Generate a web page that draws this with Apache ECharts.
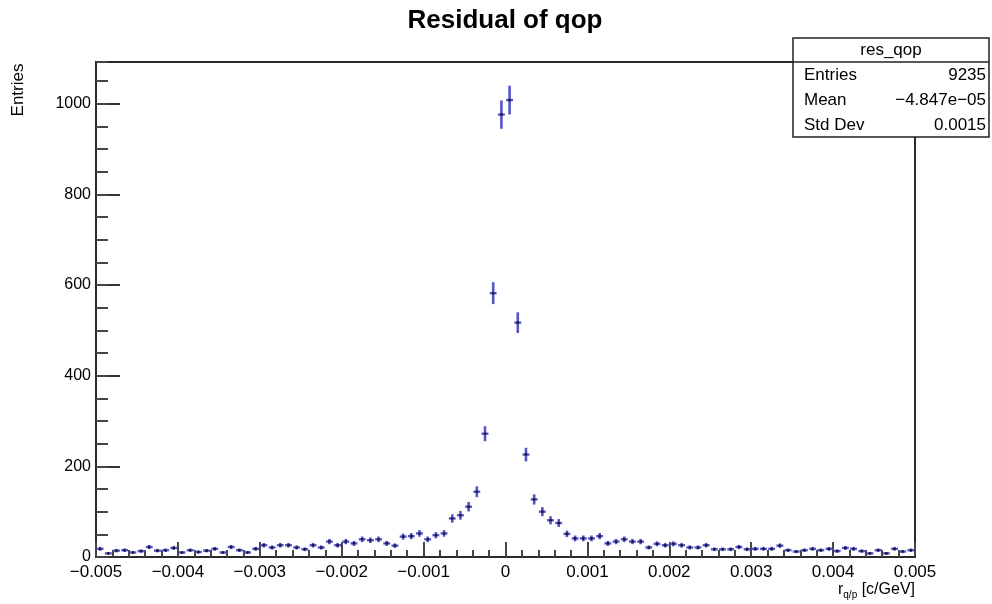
<!DOCTYPE html>
<html>
<head>
<meta charset="utf-8">
<script src="https://cdn.jsdelivr.net/npm/echarts@6/dist/echarts.min.js"></script>
<style>html,body{margin:0;padding:0;background:#fff;}#c{width:992px;height:604px;}</style>
</head>
<body>
<div id="c"></div>
<script>
// ---- data ----
const xMin = -0.005, xMax = 0.005, binWidth = 0.0001;
const counts = [
  18, 8, 14, 15, 10, 13, 22, 14, 15, 20, 10, 15, 11, 14, 18, 10, 22, 15, 10, 18,
  26, 21, 26, 26, 21, 17, 26, 21, 34, 26, 34, 30, 39, 37, 39, 30, 25, 45, 46, 52,
  39, 48, 52, 85, 92, 111, 144, 272, 582, 976, 1008, 517, 226, 127, 100, 81, 75, 51, 41, 41,
  41, 46, 30, 34, 39, 34, 34, 21, 29, 26, 29, 26, 21, 21, 26, 17, 17, 17, 22, 17,
  18, 18, 18, 25, 15, 12, 15, 18, 15, 18, 13, 20, 18, 13, 8, 15, 8, 18, 12, 15
];
const binCenters = counts.map((_, i) => xMin + (i + 0.5) * binWidth);
const yTicks = [0, 200, 400, 600, 800, 1000];
const statsRows = [["Entries", "9235"], ["Mean", "\u22124.847e\u221205"], ["Std Dev", "0.0015"]];
const yMax = 1092;

const font = "'Liberation Sans', Arial, Helvetica, sans-serif";
const seriesData = binCenters.map((x, i) => [x, counts[i], Math.sqrt(counts[i])]);

const chart = echarts.init(document.getElementById('c'), null, {renderer: 'canvas'});
const frame = '#2a2a2a';
chart.setOption({
  animation: false,
  backgroundColor: '#fff',
  grid: {left: 96, right: 77, top: 62, bottom: 47, show: true, borderColor: frame, borderWidth: 2, backgroundColor: 'transparent'},
  xAxis: {
    type: 'value', min: xMin, max: xMax, interval: 0.001,
    axisLine: {show: true, onZero: false, lineStyle: {color: frame, width: 2}},
    axisTick: {show: true, inside: true, length: 15, lineStyle: {color: '#444', width: 2}},
    minorTick: {show: true, splitNumber: 5, length: 7, lineStyle: {color: '#444', width: 2}},
    splitLine: {show: false},
    axisLabel: {
      margin: 7, color: '#000', fontSize: 17, fontFamily: font,
      formatter: v => {
        const r = Math.round(v * 1000) / 1000;
        if (r === 0) return '0';
        return (r < 0 ? '\u2212' : '') + Math.abs(r).toFixed(3);
      }
    }
  },
  yAxis: [{
    type: 'value', min: 0, max: yMax, interval: 200,
    axisLine: {show: true, onZero: false, lineStyle: {color: frame, width: 2}},
    axisTick: {show: true, inside: true, length: 24, lineStyle: {color: '#333', width: 2}},
    splitLine: {show: false},
    axisLabel: {margin: 5, color: '#000', fontSize: 16, fontFamily: font, showMaxLabel: false,
      formatter: v => (yTicks.indexOf(v) >= 0 ? String(v) : '')}
  }, {
    type: 'value', min: 0, max: yMax, interval: 50, position: 'left', offset: 0,
    axisLine: {show: false, onZero: false},
    axisTick: {show: true, inside: true, length: 12, lineStyle: {color: '#444', width: 2}},
    axisLabel: {show: false},
    splitLine: {show: false}
  }],
  series: [{
    type: 'custom',
    xAxisIndex: 0, yAxisIndex: 0,
    data: seriesData,
    encode: {x: 0, y: 1},
    clip: true,
    renderItem: function (params, api) {
      const x = api.value(0), y = api.value(1), e = api.value(2);
      const p = api.coord([x, y]);
      const top = api.coord([x, y + e]);
      const bot = api.coord([x, Math.max(0, y - e)]);
      const w = api.size([binWidth, 0])[0];
      const hw = w * 0.42;
      return {
        type: 'group',
        children: [
          {type: 'line', shape: {x1: p[0], y1: top[1], x2: p[0], y2: bot[1]}, style: {stroke: '#5555c6', lineWidth: 2.6}},
          {type: 'line', shape: {x1: p[0] - hw, y1: p[1], x2: p[0] + hw, y2: p[1]}, style: {stroke: '#5555c6', lineWidth: 2.4}},
          {type: 'circle', shape: {cx: p[0], cy: p[1], r: 1.3}, style: {fill: '#14143a'}}
        ]
      };
    }
  }],
  graphic: [
    {type: 'text', x: 505, y: 8, style: {text: 'Residual of qop', font: "bold 26px " + font, fill: '#000', align: 'center', verticalAlign: 'top'}},
    {type: 'text', x: 18, y: 90, rotation: Math.PI / 2,
      style: {text: 'Entries', font: "17px " + font, fill: '#000', align: 'center', verticalAlign: 'middle'}},
    {type: 'text', x: 915, y: 582,
      style: {
        text: '{a|r}{b|q/p}{a| [c/GeV]}', align: 'right', verticalAlign: 'top',
        rich: {
          a: {fontSize: 16, fontFamily: font, fill: '#000', verticalAlign: 'top'},
          b: {fontSize: 10, fontFamily: font, fill: '#000', padding: [8, 0, 0, 0]}
        }
      }},
    {type: 'group', children: [
      {type: 'rect', shape: {x: 793, y: 38, width: 196, height: 99}, style: {fill: '#fff', stroke: '#222', lineWidth: 1.5}},
      {type: 'line', shape: {x1: 793, y1: 62, x2: 989, y2: 62}, style: {stroke: '#222', lineWidth: 1.5}},
      {type: 'text', x: 891, y: 50, style: {text: 'res_qop', font: "17px " + font, fill: '#000', align: 'center', verticalAlign: 'middle'}},
      ...statsRows.flatMap((r, i) => [
        {type: 'text', x: 804, y: 75 + i * 25, style: {text: r[0], font: "17px " + font, fill: '#000', align: 'left', verticalAlign: 'middle'}},
        {type: 'text', x: 986, y: 75 + i * 25, style: {text: r[1], font: "17px " + font, fill: '#000', align: 'right', verticalAlign: 'middle'}}
      ])
    ]}
  ]
});
</script>
</body>
</html>
